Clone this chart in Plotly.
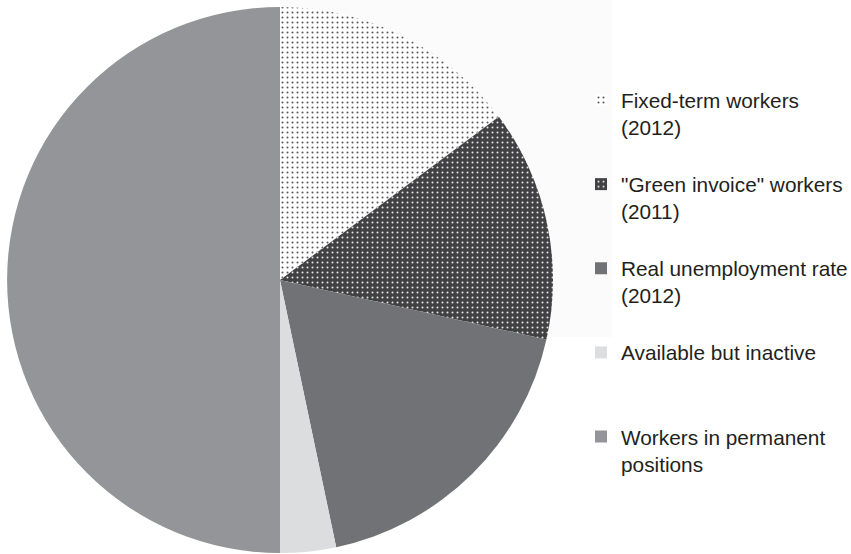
import plotly.graph_objects as go

# Slice shares (%), clockwise from 12 o'clock
labels = [
    "Fixed-term workers<br>(2012)",
    "\"Green invoice\" workers<br>(2011)",
    "Real unemployment rate<br>(2012)",
    "Available but inactive",
    "Workers in permanent<br>positions",
]
values = [14.8, 13.7, 18.2, 3.3, 50.0]

slice_colors = ["#ffffff", "#414042", "#717275", "#dcdddf", "#939598"]
pattern_shapes = [".", ".", "", "", ""]
pattern_fg = ["#58585a", "#e6e6e6", "#717275", "#dcdddf", "#939598"]

W, H = 851, 554
cx, cy, r = 280, 280, 273

# pad every legend entry to three lines so the entries sit evenly spaced
def pad(label):
    n = label.count("<br>") + 1
    return label + "<br>\u00a0" * (3 - n)

fig = go.Figure(
    go.Pie(
        labels=[pad(l) for l in labels],
        values=values,
        sort=False,
        direction="clockwise",
        rotation=0,
        textinfo="none",
        hoverinfo="label+percent",
        marker=dict(
            colors=slice_colors,
            line=dict(width=0),
            pattern=dict(
                shape=pattern_shapes,
                fgcolor=pattern_fg,
                bgcolor=slice_colors,
                size=5,
                solidity=0.13,
                fillmode="replace",
            ),
        ),
        domain=dict(
            x=[(cx - r) / W, (cx + r) / W],
            y=[1 - (cy + r) / H, 1 - (cy - r) / H],
        ),
    )
)

fig.update_layout(
    width=W,
    height=H,
    margin=dict(l=0, r=0, t=0, b=0, autoexpand=False),
    paper_bgcolor="white",
    plot_bgcolor="white",
    font=dict(family="Liberation Sans, Arial, sans-serif", size=20.8, color="#231f20"),
    showlegend=True,
    legend=dict(
        x=581 / W,
        xanchor="left",
        y=1 - 80 / H,
        yanchor="top",
        valign="top",
        itemwidth=30,
        bgcolor="rgba(0,0,0,0)",
        font=dict(size=20.8, color="#231f20"),
    ),
    shapes=[
        dict(
            type="rect", xref="paper", yref="paper", layer="below",
            x0=280 / W, x1=612 / W, y0=1 - 337 / H, y1=1,
            fillcolor="#fbfbfb", line=dict(width=0),
        )
    ],
)

fig.write_html("out.html")
